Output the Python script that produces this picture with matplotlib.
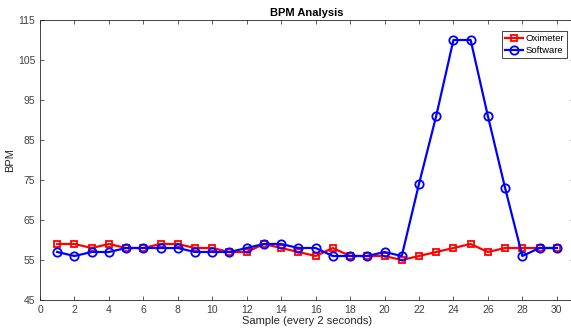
import matplotlib
matplotlib.use("Agg")
import matplotlib.pyplot as plt

plt.rcParams['font.family'] = ['Liberation Sans', 'DejaVu Sans']

# data
samples = list(range(1, 31))
oximeter = [59, 59, 58, 59, 58, 58, 59, 59, 58, 58, 57, 57, 59, 58, 57,
            56, 58, 56, 56, 56, 55, 56, 57, 58, 59, 57, 58, 58, 58, 58]
software = [57, 56, 57, 57, 58, 58, 58, 58, 57, 57, 57, 58, 59, 59, 58,
            58, 56, 56, 56, 57, 56, 74, 91, 110, 110, 91, 73, 56, 58, 58]
xticks = list(range(0, 31, 2))
yticks = list(range(45, 116, 10))

fig = plt.figure(figsize=(5.71, 3.32), dpi=100)
ax = fig.add_axes([40 / 571, 1 - 300 / 332, 534 / 571, 280 / 332])

ax.plot(samples, oximeter, color='#ff0000', marker='s', markersize=5,
        markerfacecolor='none', markeredgewidth=1.3, linewidth=1.6, label='Oximeter')
ax.plot(samples, software, color='#0000ff', marker='o', markersize=6,
        markerfacecolor='none', markeredgewidth=1.3, linewidth=1.6, label='Software')

ax.set_xlim(0, 31)
ax.set_ylim(45, 115)
ax.set_xticks(xticks)
ax.set_yticks(yticks)
ax.tick_params(direction='in', top=True, right=True, labelsize=7.5,
               colors='#404040', length=3, width=0.6)
for s in ax.spines.values():
    s.set_color('#262626')
    s.set_linewidth(0.6)

ax.set_xlabel('Sample (every 2 seconds)', fontsize=8, color='#262626', labelpad=1)
ax.set_ylabel('BPM', fontsize=8, color='#262626', labelpad=2)
ax.set_title('BPM Analysis', fontsize=8, fontweight='bold', pad=3)

leg = ax.legend(loc='upper right', bbox_to_anchor=(0.996, 0.976), fontsize=6.8,
                fancybox=False, edgecolor='#262626', framealpha=1,
                handlelength=1.9, borderpad=0.3, labelspacing=0.3, handletextpad=0.3)
leg.get_frame().set_linewidth(0.6)

fig.savefig('out.png', dpi=100)
